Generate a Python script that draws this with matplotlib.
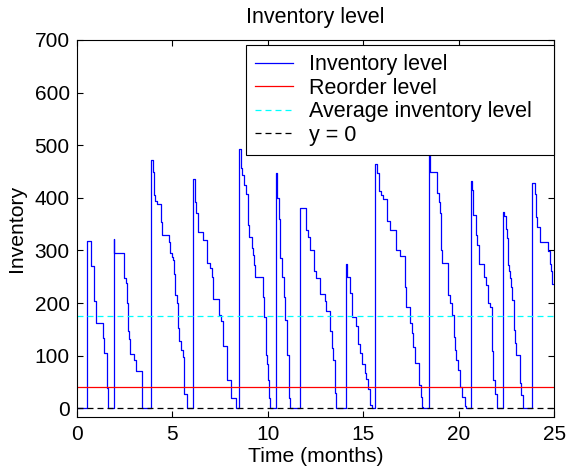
import matplotlib
matplotlib.use("Agg")
import matplotlib.pyplot as plt

plt.rcParams['font.family'] = ['Liberation Sans', 'DejaVu Sans']

# Inventory level step function: (time in months, level after the event)
event_times = [
    0.00, 0.556, 0.73, 0.92, 0.99, 1.36, 1.43, 1.57, 1.64,
    1.952, 1.97, 2.49, 2.56, 2.62, 2.69, 2.75, 2.81, 3.00, 3.09, 3.44,
    3.87, 3.975, 4.03, 4.10, 4.22, 4.39, 4.45, 4.83, 4.90, 4.97, 5.02, 5.09, 5.14, 5.23, 5.32, 5.37, 5.48, 5.56, 5.61, 5.75,
    6.10, 6.21, 6.26, 6.33, 6.59, 6.84, 6.96, 7.06, 7.15, 7.46, 7.53, 7.64, 7.85, 8.07, 8.32,
    8.49, 8.58, 8.67, 8.77, 8.86, 8.95, 9.03, 9.16, 9.21, 9.26, 9.33, 9.73, 9.82, 9.89, 9.94, 10.00, 10.08, 10.12,
    10.446, 10.46, 10.50, 10.57, 10.66, 10.74, 10.85, 10.92, 11.02, 11.09, 11.13, 11.16,
    11.70, 12.00, 12.10, 12.19, 12.42, 12.55, 12.73, 12.98, 13.06, 13.27, 13.36, 13.43, 13.50, 13.53, 13.56,
    14.11, 14.16, 14.32, 14.39, 14.62, 14.70, 14.82, 14.96, 15.07, 15.16, 15.24, 15.33, 15.44,
    15.63, 15.73, 15.82, 15.91, 16.03, 16.24, 16.38, 16.71, 16.90, 17.16, 17.25, 17.46, 17.56, 17.63, 17.72, 17.91, 18.00, 18.07, 18.12,
    18.42, 18.52, 18.86, 18.94, 19.00, 19.06, 19.12, 19.45, 19.55, 19.66, 19.74, 19.81, 19.88, 19.97, 20.06, 20.15, 20.32, 20.40,
    20.65, 20.70, 20.73, 20.90, 20.97, 21.05, 21.30, 21.45, 21.55, 21.64, 21.73, 21.80, 21.89, 21.98,
    22.33, 22.38, 22.46, 22.52, 22.57, 22.62, 22.69, 22.74, 22.80, 22.87, 22.92, 22.97, 23.20, 23.27, 23.34,
    23.85, 23.97, 24.05, 24.12, 24.26, 24.66, 24.76, 24.83, 24.90, 25.00,
]
inventory_levels = [
    0, 318, 270, 203, 162, 133, 105, 38, 0,
    321, 295, 248, 238, 201, 146, 131, 103, 91, 71, 0,
    472, 450, 405, 394, 388, 355, 330, 317, 295, 288, 282, 256, 215, 201, 153, 128, 111, 97, 28, 0,
    435, 393, 371, 336, 320, 277, 266, 250, 207, 177, 165, 118, 53, 19, 0,
    493, 457, 443, 425, 407, 349, 326, 304, 292, 273, 250, 212, 174, 101, 85, 54, 19, 0,
    447, 415, 400, 359, 285, 250, 212, 168, 101, 54, 19, 0,
    380, 338, 325, 301, 260, 247, 217, 203, 184, 146, 114, 92, 73, 30, 0,
    274, 250, 219, 174, 156, 123, 105, 85, 67, 56, 36, 6, 0,
    465, 447, 413, 405, 397, 356, 338, 300, 289, 231, 193, 163, 143, 117, 86, 44, 22, 3, 0,
    495, 450, 410, 392, 371, 300, 276, 215, 200, 177, 136, 111, 92, 73, 40, 22, 5, 0,
    432, 415, 367, 330, 310, 275, 250, 234, 200, 193, 108, 54, 28, 0,
    373, 365, 340, 323, 272, 260, 247, 231, 206, 149, 125, 101, 48, 25, 0,
    428, 408, 364, 345, 316, 298, 275, 260, 237, 237,
]
reorder_level = 40
average_level = 175
x_ticks = [0, 5, 10, 15, 20, 25]
y_ticks = [0, 100, 200, 300, 400, 500, 600, 700]

fig = plt.figure(figsize=(5.66, 4.70), dpi=100)
ax = fig.add_axes([0.1355, 0.1134, 0.9793 - 0.1355, 0.9149 - 0.1134])

ax.plot(event_times, inventory_levels, drawstyle='steps-post', color='#0000ff',
        lw=0.9, label='Inventory level')
ax.axhline(reorder_level, color='#ff0000', lw=0.9, label='Reorder level')
ax.axhline(average_level, color='#00ffff', lw=0.9, dashes=(4.8, 3.2),
           label='Average inventory level')
ax.axhline(0, color='black', lw=0.9, dashes=(4.8, 3.2), label='y = 0')

ax.set_xlim(0, 25)
ax.set_ylim(-16, 700)
ax.set_xticks(x_ticks)
ax.set_yticks(y_ticks)
ax.tick_params(direction='in', top=True, right=True, length=4, width=0.8,
               labelsize=15)
ax.tick_params(axis='x', pad=6)
ax.tick_params(axis='y', pad=5)
for s in ax.spines.values():
    s.set_linewidth(0.8)

ax.set_title('Inventory level', fontsize=15.5, pad=12)
ax.set_xlabel('Time (months)', fontsize=15.2, labelpad=2)
ax.set_ylabel('Inventory', fontsize=15.2, labelpad=6)

leg = ax.legend(loc='upper right',
                bbox_to_anchor=(0.3545, 0.0, 1.0 - 0.3545, 1 - 5 / 376.7),
                mode='expand', borderaxespad=0, fontsize=15.5, fancybox=False,
                framealpha=1, edgecolor='black', handlelength=1.75,
                handletextpad=0.74, labelspacing=0.12, borderpad=0.42)
leg.get_frame().set_linewidth(0.8)

fig.savefig('out.png', dpi=100)
